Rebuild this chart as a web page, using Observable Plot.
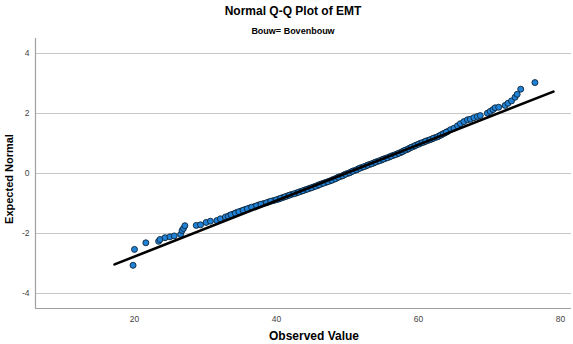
<!DOCTYPE html>
<html>
<head>
<meta charset="utf-8">
<script src="https://cdn.jsdelivr.net/npm/d3@7"></script>
<script src="https://cdn.jsdelivr.net/npm/@observablehq/plot@0.6"></script>
<style>
  html, body { margin: 0; padding: 0; background: #fff; }
  #wrap { position: relative; width: 573px; height: 344px; font-family: "Liberation Sans", Arial, sans-serif; }
  .lbl { position: absolute; white-space: nowrap; color: #000; font-weight: bold; }
  #title { left: 0; width: 586px; top: 4px; text-align: center; font-size: 12px; }
  #subtitle { left: 0; width: 586px; top: 26px; text-align: center; font-size: 9px; }
  #xlabel { left: 0; width: 628px; top: 329px; text-align: center; font-size: 12px; }
  #ylabel { left: 9px; top: 179px; font-size: 11px; transform: translate(-50%, -50%) rotate(-90deg); }
</style>
</head>
<body>
<div id="wrap">
  <div id="chart"></div>
  <div class="lbl" id="title">Normal Q-Q Plot of EMT</div>
  <div class="lbl" id="subtitle">Bouw= Bovenbouw</div>
  <div class="lbl" id="xlabel">Observed Value</div>
  <div class="lbl" id="ylabel">Expected Normal</div>
</div>
<script>
const observed = [
  19.8, 20.0, 21.6, 23.4, 23.6, 24.3, 25.0, 25.6, 26.5, 26.7, 26.9, 27.1, 28.7, 29.3, 30.1, 30.7, 31.6, 32.1,
  32.8, 33.4, 33.9, 34.4, 35.0, 35.6, 36.2, 36.9, 37.5, 38.2, 38.9, 39.6, 40.3, 40.9, 41.5, 42.1, 42.8, 43.4,
  44.0, 44.6, 45.2, 45.8, 46.3, 46.9, 47.5, 48.0, 48.5, 49.0, 49.5, 50.0, 50.5, 51.0, 51.5, 52.0, 52.6, 53.1,
  53.7, 54.2, 54.8, 55.3, 55.9, 56.4, 57.0, 57.5, 57.9, 58.4, 58.8, 59.3, 59.7, 60.2, 60.8, 61.3, 61.9, 62.4,
  62.9, 63.3, 63.7, 64.1,
  64.5, 65.0, 65.5, 65.9, 66.4, 66.9, 67.3, 67.8, 68.3, 68.7, 69.7, 70.1, 70.5, 70.8, 71.3, 72.2, 72.6, 73.1,
  73.6, 73.9, 74.4, 76.4
];
const expected = [
  -3.06, -2.53, -2.31, -2.26, -2.20, -2.14, -2.11, -2.08, -2.03, -1.90, -1.83, -1.74, -1.73, -1.71, -1.63, -1.59, -1.57, -1.51,
  -1.45, -1.40, -1.35, -1.30, -1.25, -1.20, -1.15, -1.10, -1.05, -1.00, -0.95, -0.90, -0.85, -0.80, -0.75, -0.70, -0.65, -0.60,
  -0.55, -0.50, -0.45, -0.40, -0.35, -0.30, -0.25, -0.20, -0.15, -0.10, -0.05, 0.00, 0.05, 0.10, 0.15, 0.20, 0.25, 0.30,
  0.35, 0.40, 0.45, 0.50, 0.55, 0.60, 0.65, 0.70, 0.75, 0.80, 0.85, 0.90, 0.95, 1.00, 1.05, 1.10, 1.15, 1.20,
  1.25, 1.30, 1.35, 1.40,
  1.46, 1.51, 1.59, 1.66, 1.73, 1.79, 1.81, 1.86, 1.90, 1.93, 2.01, 2.07, 2.13, 2.19, 2.21, 2.27, 2.34, 2.42,
  2.54, 2.64, 2.81, 3.03
];
// Additional densely packed points in the middle of the band
const observedMid = [
  33.2, 33.6, 34.2, 34.7, 35.3, 35.9, 36.5, 37.2, 37.8, 38.6, 39.2, 40.0, 40.6, 41.2, 41.8, 42.5, 43.1, 43.7, 44.3,
  44.9, 45.5, 46.0, 46.6, 47.2, 47.8, 48.3, 48.7, 49.3, 49.7, 50.3, 50.7, 51.3, 51.7, 52.3, 52.8, 53.4, 53.9, 54.5,
  55.0, 55.6, 56.1, 56.7, 57.2, 57.7, 58.1, 58.6, 59.0, 59.5, 60.0, 60.5, 61.0, 61.6, 62.1, 62.7, 63.1, 63.5, 63.9
];
const expectedMid = [
  -1.425, -1.375, -1.325, -1.275, -1.225, -1.175, -1.125, -1.075, -1.025, -0.975, -0.925, -0.875, -0.825, -0.775, -0.725, -0.675, -0.625, -0.575, -0.525,
  -0.475, -0.425, -0.375, -0.325, -0.275, -0.225, -0.175, -0.125, -0.075, -0.025, 0.025, 0.075, 0.125, 0.175, 0.225, 0.275, 0.325, 0.375, 0.425,
  0.475, 0.525, 0.575, 0.625, 0.675, 0.725, 0.775, 0.825, 0.875, 0.925, 0.975, 1.025, 1.075, 1.125, 1.175, 1.225, 1.275, 1.325, 1.375
];
// Reference line endpoints
const refX = [17.2, 79.0];
const refY = [-3.03, 2.73];
// Axis ticks
const xTicks = [20, 40, 60, 80];
const yTicks = [-4, -2, 0, 2, 4];

const points = observed.map((v, i) => ({x: v, y: expected[i]}))
  .concat(observedMid.map((v, i) => ({x: v, y: expectedMid[i]})));
const refLine = refX.map((v, i) => ({x: v, y: refY[i]}));

const xDomain = [6.06, 81.55];
const yDomain = [-4.5, 4.5];

const chart = Plot.plot({
  width: 573,
  height: 344,
  marginLeft: 35,
  marginRight: 2,
  marginTop: 38,
  marginBottom: 36,
  style: {fontFamily: "Liberation Sans, Arial, sans-serif", fontSize: "8.5px", color: "#444", background: "#fff"},
  x: {domain: xDomain, ticks: xTicks, label: null},
  y: {domain: yDomain, ticks: yTicks, label: null},
  marks: [
    Plot.gridY(yTicks, {stroke: "#c8c8c8", strokeOpacity: 1, strokeWidth: 1}),
    Plot.ruleX([xDomain[0]], {stroke: "#a0a0a0", strokeWidth: 1.2}),
    Plot.ruleY([yDomain[0]], {stroke: "#a0a0a0", strokeWidth: 1.2}),
    Plot.axisY(yTicks, {tickSize: 0, tickPadding: 6, tickFormat: d => String(d), fill: "#444"}),
    Plot.axisX(xTicks, {tickSize: 0, tickPadding: 7, tickFormat: d => String(d), fill: "#444"}),
    Plot.dot(points, {x: "x", y: "y", r: 3, fill: "#1f82d6", stroke: "#0f2438", strokeWidth: 0.9}),
    Plot.line(refLine, {x: "x", y: "y", stroke: "#000", strokeWidth: 2.6})
  ]
});
document.getElementById("chart").appendChild(chart);
</script>
</body>
</html>
